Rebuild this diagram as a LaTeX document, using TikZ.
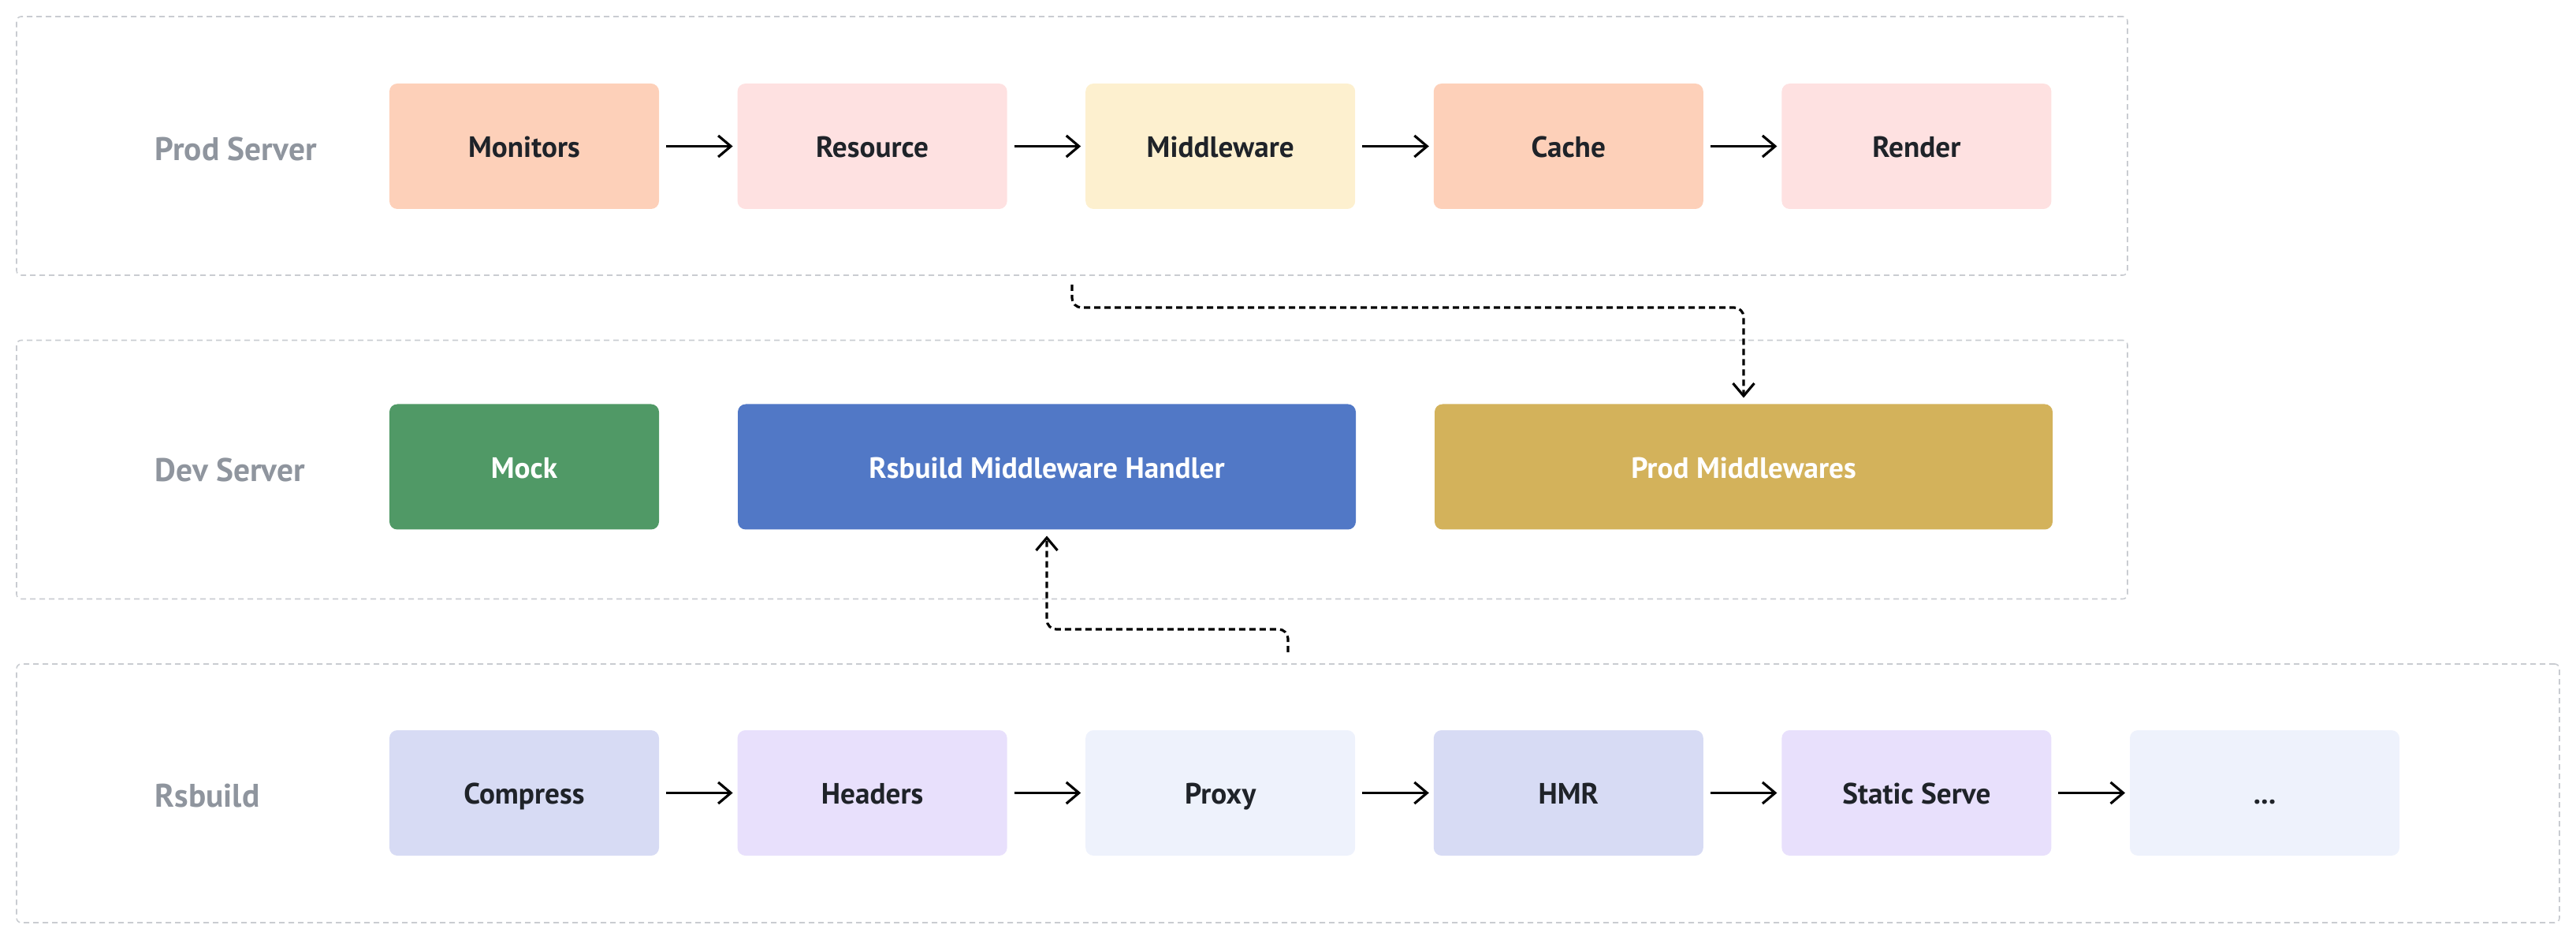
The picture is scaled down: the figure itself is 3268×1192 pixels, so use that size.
\documentclass[tikz,border=0pt]{standalone}
\usepackage{fontspec}
\setmainfont{PT Sans}
\usetikzlibrary{positioning,arrows.meta}
\definecolor{peach}{HTML}{FDD0B9}
\definecolor{blush}{HTML}{FEE1E1}
\definecolor{cream}{HTML}{FDF0CF}
\definecolor{mockgreen}{HTML}{509966}
\definecolor{handlerblue}{HTML}{5178C6}
\definecolor{mustard}{HTML}{D3B25B}
\definecolor{periwinkle}{HTML}{D7DBF4}
\definecolor{lilac}{HTML}{E8E0FC}
\definecolor{paleblue}{HTML}{EEF2FC}
\definecolor{lanegray}{HTML}{C9CCD1}
\definecolor{labelgray}{HTML}{8F959E}
\definecolor{ink}{HTML}{1F2329}
\begin{document}
\begin{tikzpicture}[x=0.1mm, y=-0.1mm, >={Straight Barb[length=1.6mm,width=2.7mm]},
  lane/.style={draw=lanegray, line width=0.45pt, dash pattern=on 0.7mm off 0.5mm,
    rounded corners=0.6mm, minimum height=32.8mm, inner sep=0pt},
  lanelabel/.style={anchor=west, inner sep=0pt, text=labelgray,
    font=\bfseries\fontsize{11.8}{14}\selectfont},
  stage/.style={rounded corners=1mm, minimum width=34.2mm, minimum height=15.9mm,
    inner sep=0pt, outer sep=0pt, text height=2ex, text depth=0.4ex, text=ink,
    font=\bfseries\fontsize{10.6}{12}\selectfont},
  wide/.style={stage, minimum width=78.4mm, text=white},
  flow/.style={->, line width=0.9pt, shorten <=0.9mm, shorten >=0.6mm},
  link/.style={->, line width=0.9pt, dash pattern=on 0.8mm off 0.5mm, rounded corners=1.2mm}]
  \useasboundingbox (0,0) rectangle (3268,1192);

  % lanes
  \node[lane, minimum width=267.8mm] (prodlane) at (1360,185) {};
  \node[lane, minimum width=267.8mm] (devlane) at (1360,595.5) {};
  \node[lane, minimum width=322.6mm] (rsblane) at (1634,1006) {};
  \node[lanelabel] (prodlbl) at (196,189) {Prod Server};
  \node[lanelabel] (devlbl) at (196,596) {Dev Server};
  \node[lanelabel] (rsblbl) at (196,1009) {Rsbuild};

  % prod server
  \node[stage, fill=peach] (mon) at (665,185.5) {Monitors};
  \node[stage, fill=blush, right=0.996cm of mon] (res) {Resource};
  \node[stage, fill=cream, right=0.996cm of res] (mw) {Middleware};
  \node[stage, fill=peach, right=0.996cm of mw] (cache) {Cache};
  \node[stage, fill=blush, right=0.996cm of cache] (render) {Render};
  \draw[flow] (mon) -- (res);
  \draw[flow] (res) -- (mw);
  \draw[flow] (mw) -- (cache);
  \draw[flow] (cache) -- (render);

  % dev server
  \node[stage, fill=mockgreen, text=white] (mock) at (665,592) {Mock};
  \node[wide, fill=handlerblue] (handler) at (1328,592) {Rsbuild Middleware Handler};
  \node[wide, fill=mustard] (prodmw) at (2212,592) {Prod Middlewares};

  % rsbuild
  \node[stage, fill=periwinkle] (compress) at (665,1005.5) {Compress};
  \node[stage, fill=lilac, right=0.996cm of compress] (headers) {Headers};
  \node[stage, fill=paleblue, right=0.996cm of headers] (proxy) {Proxy};
  \node[stage, fill=periwinkle, right=0.996cm of proxy] (hmr) {HMR};
  \node[stage, fill=lilac, right=0.996cm of hmr] (static) {Static Serve};
  \node[stage, fill=paleblue, right=0.996cm of static] (more) {...};
  \draw[flow] (compress) -- (headers);
  \draw[flow] (headers) -- (proxy);
  \draw[flow] (proxy) -- (hmr);
  \draw[flow] (hmr) -- (static);
  \draw[flow] (static) -- (more);

  % links between lanes
  \coordinate (bend1) at (1360,390);
  \coordinate (bend2) at (1634,798);
  \draw[link] ([yshift=-1.1mm]prodlane.south) -- (bend1) -| ([yshift=0.8mm]prodmw.north);
  \draw[link] ([yshift=1.4mm]rsblane.north) -- (bend2) -| ([yshift=-0.8mm]handler.south);
\end{tikzpicture}
\end{document}
